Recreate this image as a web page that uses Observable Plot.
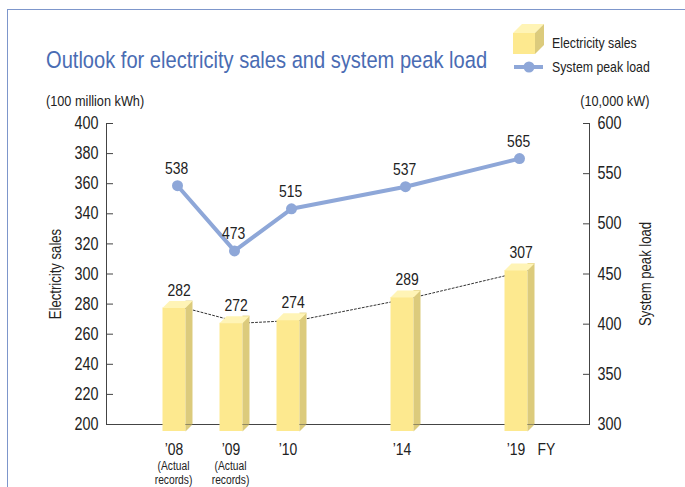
<!DOCTYPE html>
<html>
<head>
<meta charset="utf-8">
<script src="https://cdn.jsdelivr.net/npm/d3@7"></script>
<script src="https://cdn.jsdelivr.net/npm/@observablehq/plot@0.6"></script>
<style>
  html, body { margin: 0; padding: 0; background: #fff; }
  body { width: 685px; height: 487px; position: relative; overflow: hidden;
         font-family: "Liberation Sans", Arial, sans-serif; color: #222; }
  .abs { position: absolute; white-space: nowrap; }
  .narrow { display: inline-block; transform: scaleX(0.82); transform-origin: left center; }
  .narrowR { display: inline-block; transform: scaleX(0.82); transform-origin: right center; }
  #frame { left: 7px; top: 9px; width: 800px; height: 600px; border-top: 1px solid #7d96cb; border-left: 1px solid #7d96cb; }
  #title { left: 46px; top: 48px; font-size: 24.5px; line-height: 24px; color: #4a6cb3; }
  .leg { left: 552px; font-size: 15px; line-height: 15px; }
  .unit { top: 93px; font-size: 15.5px; line-height: 15.5px; }
  #chart { position: absolute; left: 0; top: 0; }
</style>
</head>
<body>
<div id="frame" class="abs"></div>
<div id="chart"></div>
<div id="title" class="abs narrow"></div>
<svg class="abs" style="left:0;top:0" width="685" height="90" id="legsvg"></svg>
<div id="leg1" class="abs leg narrow" style="top:35px"></div>
<div id="leg2" class="abs leg narrow" style="top:59px"></div>
<div id="unitL" class="abs unit narrow" style="left:46px"></div>
<div id="unitR" class="abs unit narrowR" style="right:36px"></div>
<script>
// ---- data ----
const titleText = "Outlook for electricity sales and system peak load";
const seriesNames = ["Electricity sales", "System peak load"];
const unitLabels = ["(100 million kWh)", "(10,000 kW)"];
const categories = ["’08", "’09", "’10", "’14", "’19"];
const notes = ["(Actual\nrecords)", "(Actual\nrecords)", "", "", ""];
const sales = [282, 272, 274, 289, 307];        // 100 million kWh
const peakLoad = [538, 473, 515, 537, 565];     // 10,000 kW
const slots = ["’08", "’09", "’10", "gapA", "’14", "gapB", "’19"];
const leftTicks = [200, 220, 240, 260, 280, 300, 320, 340, 360, 380, 400];
const rightTicks = [300, 350, 400, 450, 500, 550, 600];
const leftDomain = [200, 400];
const rightDomain = [300, 600];
const fyLabel = "FY";

// map right axis values onto the left scale
const toLeft = v => leftDomain[0] + (v - rightDomain[0]) * (leftDomain[1] - leftDomain[0]) / (rightDomain[1] - rightDomain[0]);
const fromLeft = v => rightDomain[0] + (v - leftDomain[0]) * (rightDomain[1] - rightDomain[0]) / (leftDomain[1] - leftDomain[0]);

const data = categories.map((c, i) => ({cat: c, note: notes[i], sales: sales[i], peak: peakLoad[i], peakL: toLeft(peakLoad[i])}));

const cFront = "#fde98f", cTop = "#fff4b6", cSide = "#dccb7c", cBlue = "#8ea7d8", cAxis = "#444";

const topFace = {draw(ctx) { ctx.moveTo(-15, 7); ctx.lineTo(-8, 0); ctx.lineTo(15, 0); ctx.lineTo(8, 7); ctx.closePath(); }};
const baseTri = {draw(ctx) { ctx.moveTo(8, 0); ctx.lineTo(15, 0); ctx.lineTo(8, 7); ctx.closePath(); }};

const W = 685, H = 487, mL = 106, mR = 96;
const frameMid = (mL + W - mR) / 2;

const chart = Plot.plot({
  width: W, height: H,
  marginTop: 123, marginBottom: 63, marginLeft: mL, marginRight: mR,
  style: {fontFamily: '"Liberation Sans", Arial, sans-serif', color: "#222", background: "transparent", overflow: "visible"},
  x: {type: "point", domain: slots, range: [175, 521], padding: 0, axis: null},
  y: {domain: leftDomain, axis: null},
  marks: [
    Plot.ruleY([leftDomain[0]], {stroke: cAxis, strokeWidth: 1}),
    // vertical axis lines at frame edges
    Plot.ruleX([0], {x: null, y1: leftDomain[0], y2: leftDomain[1], dx: mL - frameMid, stroke: cAxis}),
    Plot.ruleX([0], {x: null, y1: leftDomain[0], y2: leftDomain[1], dx: (W - mR) - frameMid, stroke: cAxis}),
    // dotted trend line connecting bar corners
    Plot.line(data, {x: "cat", y: "sales", dx: 8, dy: 7, stroke: "#333", strokeWidth: 1, strokeDasharray: "2,2"}),
    // 3D bars
    Plot.ruleX(data, {x: "cat", y1: leftDomain[0], y2: "sales", dx: -3.5, dy: 7, stroke: cFront, strokeWidth: 23}),
    Plot.ruleX(data, {x: "cat", y1: leftDomain[0], y2: "sales", dx: 11.5, stroke: cSide, strokeWidth: 7}),
    Plot.dot(data, {x: "cat", y: leftDomain[0], symbol: baseTri, fill: cSide, stroke: "none"}),
    Plot.dot(data, {x: "cat", y: "sales", symbol: topFace, fill: cTop, stroke: "none"}),
    Plot.text(data, {x: "cat", y: "sales", text: d => String(d.sales), dx: 1.5, dy: -11, fontSize: 17, fill: "#222"}),
    // peak load line
    Plot.line(data, {x: "cat", y: "peakL", stroke: cBlue, strokeWidth: 4}),
    Plot.dot(data, {x: "cat", y: "peakL", r: 5.5, fill: cBlue, stroke: "none"}),
    Plot.text(data, {x: "cat", y: "peakL", text: d => String(d.peak), dx: -1, dy: -17, fontSize: 17, fill: "#222"}),
    // axes: labels
    Plot.axisY({anchor: "left", ticks: leftTicks, tickSize: 0, tickPadding: 8, fontSize: 17.5, stroke: cAxis, fill: "#222", label: null}),
    Plot.axisY({anchor: "right", ticks: rightTicks.map(toLeft), tickFormat: d => String(Math.round(fromLeft(d))), tickSize: 0, tickPadding: 8, fontSize: 17.5, stroke: cAxis, fill: "#222", label: null}),
    // inward ticks
    Plot.axisY({anchor: "left", ticks: leftTicks, tickSize: 7, dx: 7, stroke: cAxis, fill: "none", label: null}),
    Plot.axisY({anchor: "right", ticks: rightTicks.map(toLeft), tickSize: 7, dx: -7, stroke: cAxis, fill: "none", label: null}),
    // axis titles
    Plot.text([seriesNames[0]], {frameAnchor: "left", textAnchor: "middle", text: d => d, rotate: -90, dx: -51, fontSize: 16, fill: "#222"}),
    Plot.text([seriesNames[1]], {frameAnchor: "right", textAnchor: "middle", text: d => d, rotate: -90, dx: 56, fontSize: 16, fill: "#222"}),
    // x labels
    Plot.text(data, {x: "cat", frameAnchor: "bottom", lineAnchor: "middle", text: "cat", dx: -3.5, dy: 25, fontSize: 17, fill: "#222"}),
    Plot.text(data.filter(d => d.note), {x: "cat", frameAnchor: "bottom", lineAnchor: "middle", text: "note", dx: -4, dy: 48, fontSize: 12.5, lineHeight: 1.12, fill: "#222"}),
    Plot.text([fyLabel], {frameAnchor: "bottom-right", lineAnchor: "middle", text: d => d, textAnchor: "start", dx: -52, dy: 25, fontSize: 17, fill: "#222"})
  ]
});

// condense all SVG texts horizontally (narrow typeface look); em-based y offsets are kept
d3.select(chart).selectAll("text").each(function() {
  const t = this.getAttribute("transform") || "";
  this.setAttribute("transform", (t + " scale(0.82,1)").trim());
});
document.getElementById("chart").appendChild(chart);

document.getElementById("title").textContent = titleText;
document.getElementById("leg1").textContent = seriesNames[0];
document.getElementById("leg2").textContent = seriesNames[1];
document.getElementById("unitL").textContent = unitLabels[0];
document.getElementById("unitR").textContent = unitLabels[1];

// legend symbols
const leg = d3.select("#legsvg");
leg.append("polygon").attr("points", "513,33 522,24 544,24 535,33").attr("fill", cTop);
leg.append("polygon").attr("points", "535,33 544,24 544,45 535,54").attr("fill", cSide);
leg.append("rect").attr("x", 513).attr("y", 33).attr("width", 22).attr("height", 21).attr("fill", cFront);
leg.append("line").attr("x1", 514).attr("x2", 543).attr("y1", 67).attr("y2", 67).attr("stroke", cBlue).attr("stroke-width", 4);
leg.append("circle").attr("cx", 529).attr("cy", 67).attr("r", 5.5).attr("fill", cBlue);
</script>
</body>
</html>
